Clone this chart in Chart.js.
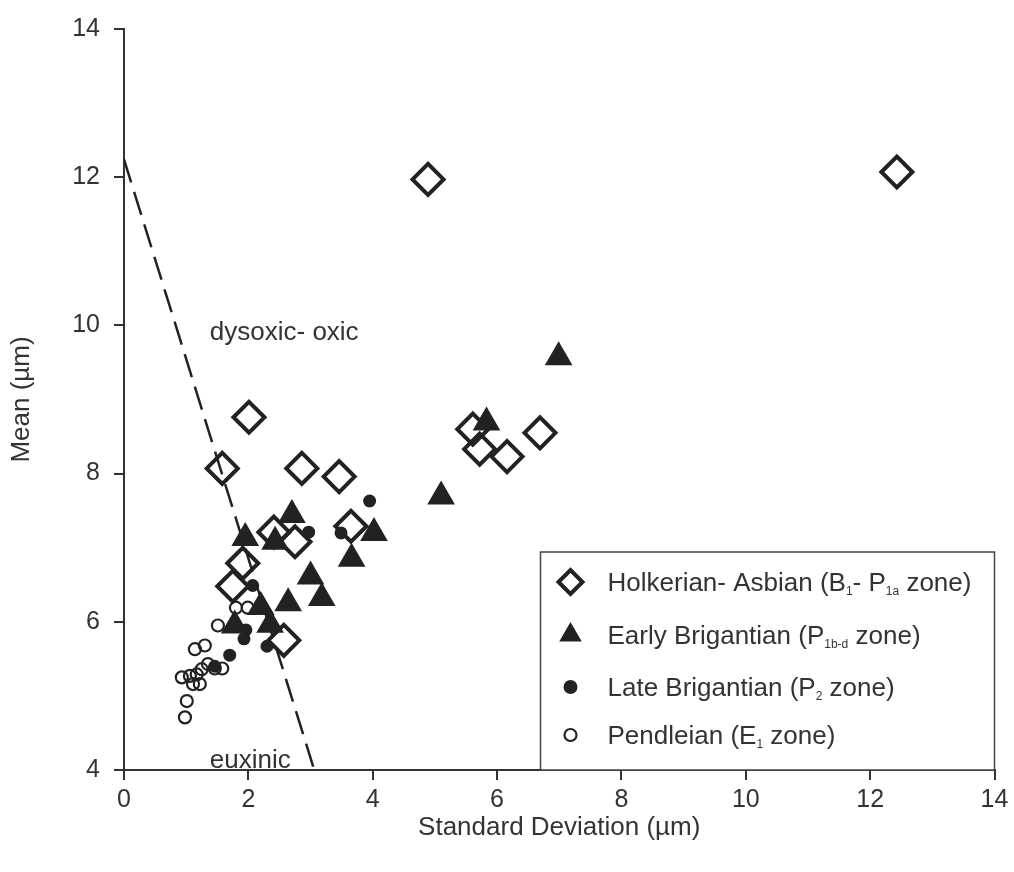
<!DOCTYPE html>
<html>
<head>
<meta charset="utf-8">
<script src="https://cdn.jsdelivr.net/npm/chart.js@4.4.1/dist/chart.umd.min.js"></script>
<style>
  html, body { margin: 0; padding: 0; background: #fff; }
  #wrap { width: 1014px; height: 872px; }
</style>
</head>
<body>
<div id="wrap"><canvas id="sdChart" width="1014" height="872"></canvas></div>
<script>
// Holkerian- Asbian (B1- P1a zone)
const holkerianSD = [4.89, 12.43, 2.01, 1.58, 2.86, 3.46, 3.65, 2.41, 2.75, 1.91, 1.75, 2.57, 5.61, 5.72, 6.16, 6.69];
const holkerianMean = [11.97, 12.07, 8.76, 8.07, 8.07, 7.96, 7.29, 7.21, 7.08, 6.79, 6.48, 5.75, 8.60, 8.33, 8.23, 8.55];

// Early Brigantian (P1b-d zone)
const earlySD = [6.99, 5.83, 5.10, 2.70, 1.95, 2.43, 4.02, 3.66, 3.00, 3.18, 2.64, 2.20, 2.35, 1.78];
const earlyMean = [9.57, 8.69, 7.69, 7.44, 7.13, 7.08, 7.20, 6.85, 6.61, 6.32, 6.25, 6.20, 5.96, 5.95];

// Late Brigantian (P2 zone)
const lateSD = [3.95, 2.97, 3.49, 2.07, 1.96, 1.93, 2.30, 1.70, 1.46];
const lateMean = [7.63, 7.21, 7.20, 6.49, 5.89, 5.77, 5.67, 5.55, 5.40];

// Pendleian (E1 zone)
const pendleianSD = [1.80, 1.99, 1.51, 1.14, 1.30, 0.93, 1.06, 1.17, 1.25, 1.35, 1.46, 1.58, 1.11, 1.22, 1.01, 0.98];
const pendleianMean = [6.19, 6.19, 5.95, 5.63, 5.68, 5.25, 5.27, 5.29, 5.36, 5.43, 5.37, 5.37, 5.16, 5.16, 4.93, 4.71];

// euxinic / dysoxic-oxic boundary
const boundarySD = [0, 3.06];
const boundaryMean = [12.24, 4];

const xTicks = [0, 2, 4, 6, 8, 10, 12, 14];
const yTicks = [4, 6, 8, 10, 12, 14];

const ink = '#222';
const textColor = '#333';
const fontFamily = "'Liberation Sans', Arial, sans-serif";

function toPoints(xs, ys) {
    return xs.map((x, i) => ({ x: x, y: ys[i] }));
}

// legend rows: text pieces, second item true = subscript
const legendRows = [
    { style: 'rectRot', radius: 12, border: 4, fill: 'rgba(0,0,0,0)',
      parts: [['Holkerian- Asbian (B'], ['1', true], ['- P'], ['1a', true], [' zone)']] },
    { style: 'triangle', radius: 13, border: 0, fill: ink,
      parts: [['Early Brigantian (P'], ['1b-d', true], [' zone)']] },
    { style: 'circle', radius: 7, border: 0, fill: ink,
      parts: [['Late Brigantian (P'], ['2', true], [' zone)']] },
    { style: 'circle', radius: 6, border: 2.2, fill: 'rgba(0,0,0,0)',
      parts: [['Pendleian (E'], ['1', true], [' zone)']] }
];

const overlayPlugin = {
    id: 'overlay',
    afterDraw(chart) {
        const ctx = chart.ctx;
        const xs = chart.scales.x;
        const ys = chart.scales.y;
        ctx.save();

        // region labels
        ctx.fillStyle = textColor;
        ctx.font = '26px ' + fontFamily;
        ctx.textBaseline = 'middle';
        ctx.textAlign = 'left';
        ctx.fillText('dysoxic- oxic', xs.getPixelForValue(1.38), ys.getPixelForValue(9.9));
        ctx.fillText('euxinic', xs.getPixelForValue(1.38), ys.getPixelForValue(4.13));

        // legend box
        const boxRight = chart.chartArea.right;
        const boxBottom = chart.chartArea.bottom;
        const boxW = 454, boxH = 218;
        const boxL = boxRight - boxW, boxT = boxBottom - boxH;
        ctx.fillStyle = '#fff';
        ctx.fillRect(boxL, boxT, boxW, boxH);
        ctx.strokeStyle = '#444';
        ctx.lineWidth = 1.5;
        ctx.strokeRect(boxL, boxT, boxW, boxH);

        const rowY = [30, 83, 135, 183];
        legendRows.forEach((row, i) => {
            const cy = boxT + rowY[i];
            ctx.fillStyle = row.fill;
            ctx.strokeStyle = ink;
            ctx.lineWidth = row.border;
            Chart.helpers.drawPoint(ctx, {
                pointStyle: row.style, radius: row.radius, rotation: 0, borderWidth: row.border
            }, boxL + 30, cy);

            let tx = boxL + 67;
            ctx.fillStyle = textColor;
            ctx.textBaseline = 'alphabetic';
            row.parts.forEach(p => {
                if (p[1]) {
                    ctx.font = '12px ' + fontFamily;
                    ctx.fillText(p[0], tx, cy + 13);
                } else {
                    ctx.font = '26px ' + fontFamily;
                    ctx.fillText(p[0], tx, cy + 9);
                }
                tx += ctx.measureText(p[0]).width;
            });
        });
        ctx.restore();
    }
};

const axisFont = { family: fontFamily, size: 25 };
const titleFont = { family: fontFamily, size: 26 };

new Chart(document.getElementById('sdChart').getContext('2d'), {
    type: 'scatter',
    data: {
        datasets: [
            {
                label: 'boundary',
                data: toPoints(boundarySD, boundaryMean),
                showLine: true,
                borderColor: ink,
                borderWidth: 2.5,
                borderDash: [24, 10],
                pointRadius: 0
            },
            {
                label: 'Holkerian- Asbian (B1- P1a zone)',
                data: toPoints(holkerianSD, holkerianMean),
                pointStyle: 'rectRot',
                pointRadius: 15.5,
                borderWidth: 4,
                borderColor: ink,
                backgroundColor: 'rgba(0,0,0,0)'
            },
            {
                label: 'Early Brigantian (P1b-d zone)',
                data: toPoints(earlySD, earlyMean),
                pointStyle: 'triangle',
                pointRadius: 16,
                borderWidth: 0,
                backgroundColor: ink
            },
            {
                label: 'Late Brigantian (P2 zone)',
                data: toPoints(lateSD, lateMean),
                pointStyle: 'circle',
                pointRadius: 6.5,
                borderWidth: 0,
                backgroundColor: ink
            },
            {
                label: 'Pendleian (E1 zone)',
                data: toPoints(pendleianSD, pendleianMean),
                pointStyle: 'circle',
                pointRadius: 6,
                borderWidth: 2.2,
                borderColor: ink,
                backgroundColor: 'rgba(0,0,0,0)'
            }
        ]
    },
    options: {
        responsive: false,
        animation: false,
        layout: { padding: { top: 20, right: 19, left: 0, bottom: 0 } },
        plugins: {
            legend: { display: false },
            tooltip: { enabled: false }
        },
        scales: {
            x: {
                type: 'linear',
                min: 0,
                max: 14,
                afterFit: s => { s.height = 102; },
                afterBuildTicks: s => { s.ticks = xTicks.map(v => ({ value: v })); },
                ticks: { font: axisFont, color: textColor, padding: 5 },
                grid: { drawOnChartArea: false, drawTicks: true, tickLength: 10, color: '#333', lineWidth: 2 },
                border: { color: '#333', width: 2 },
                title: { display: true, text: 'Standard Deviation (µm)', font: titleFont, color: textColor,
                         padding: { top: 0, bottom: 29 } }
            },
            y: {
                type: 'linear',
                min: 4,
                max: 14,
                afterFit: s => { s.width = 124; },
                afterBuildTicks: s => { s.ticks = yTicks.map(v => ({ value: v })); },
                ticks: { font: axisFont, color: textColor, padding: 14 },
                grid: { drawOnChartArea: false, drawTicks: true, tickLength: 10, color: '#333', lineWidth: 2 },
                border: { color: '#333', width: 2 },
                title: { display: true, text: 'Mean (µm)', font: titleFont, color: textColor,
                         padding: { top: 6, bottom: 0 } }
            }
        }
    },
    plugins: [overlayPlugin]
});
</script>
</body>
</html>
